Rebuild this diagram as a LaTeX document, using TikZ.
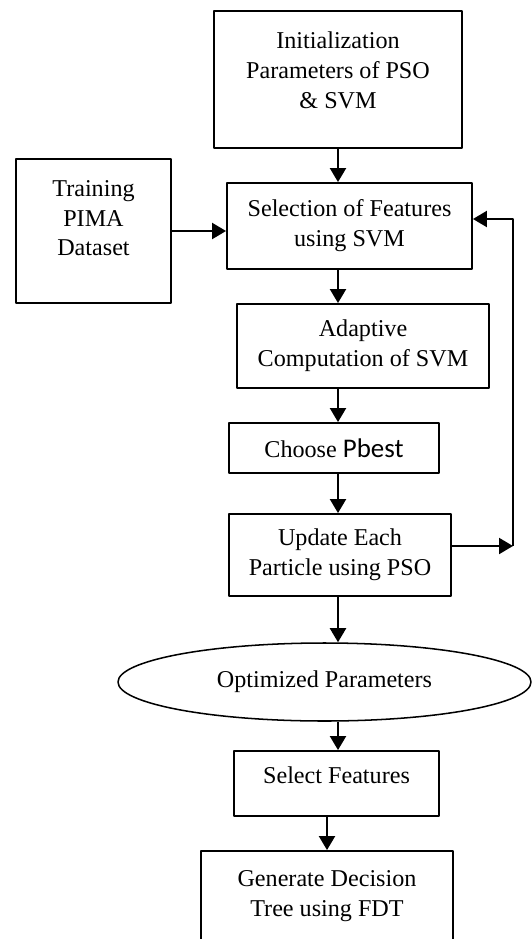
\documentclass[tikz,border=0pt]{standalone}
\usepackage{fontspec}
\setmainfont{Liberation Serif}
\newfontfamily\calibrifont{Carlito}
\usetikzlibrary{arrows.meta,shapes.geometric}
\begin{document}
\begin{tikzpicture}[x=.03cm,y=-.03cm,line join=round,
    proc/.style={draw,line width=1.6pt,align=center,inner sep=0pt,font=\fontsize{20.6}{25.6}\selectfont},
    oval/.style={proc,ellipse,line width=1.3pt},
    link/.style={line width=1.8pt,-{Triangle[length=.42cm,width=.48cm]}}]
  \useasboundingbox (0,0) rectangle (532,939);
  \clip (0,0) rectangle (532,939);
  \node[proc,minimum width=7.44cm,minimum height=4.11cm] (init) at (338,79.5)
    {Initialization\\Parameters of PSO\\\& SVM\\[-.33cm]};
  \node[proc,minimum width=4.65cm,minimum height=4.32cm] (train) at (93.5,231)
    {Training\\PIMA\\Dataset\\[-.12cm]};
  \node[proc,minimum width=7.35cm,minimum height=2.58cm] (select) at (349.5,226)
    {Selection of Features\\using SVM};
  \node[proc,minimum width=7.56cm,minimum height=2.52cm] (adapt) at (363,346)
    {Adaptive\\Computation of SVM};
  \node[proc,minimum width=6.3cm,minimum height=1.5cm] (pbest) at (334,448)
    {Choose {\calibrifont\fontsize{23}{25.6}\selectfont Pbest}};
  \node[proc,minimum width=6.66cm,minimum height=2.46cm] (update) at (340,555)
    {Update Each\\Particle using PSO};
  \node[oval,minimum width=12.39cm,minimum height=2.34cm] (optim) at (324.5,682)
    {Optimized Parameters};
  \node[proc,minimum width=6.15cm,minimum height=1.95cm] (feat) at (336.5,783.5)
    {Select Features\\[-.39cm]};
  \node[proc,minimum width=7.56cm,minimum height=2.82cm] (tree) at (327,898)
    {Generate Decision\\Tree using FDT\\[-.63cm]};
  \coordinate (turn) at (513,546);
  \coordinate (back) at (513,219);
  \draw[link] (init) -- (init |- select.north);
  \draw[link] (train.east) -- (train.east -| select.west);
  \draw[link] (select.south -| init) -- (adapt.north -| init);
  \draw[link] (adapt.south -| init) -- (pbest.north -| init);
  \draw[link] (pbest.south -| init) -- (update.north -| init);
  \draw[link] (update.south -| init) -- (optim.north -| init);
  \draw[link] (optim.south -| init) -- (feat.north -| init);
  \draw[link] (feat.south -| tree) -- (tree.north);
  \draw[link] (update.east |- turn) -- (turn);
  \draw[link] (turn) -- (back) -- (back -| select.east);
\end{tikzpicture}
\end{document}
